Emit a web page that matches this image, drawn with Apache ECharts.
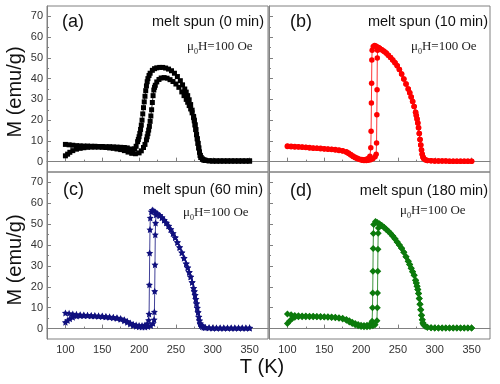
<!DOCTYPE html>
<html><head><meta charset="utf-8">
<script src="https://cdn.jsdelivr.net/npm/echarts@6/dist/echarts.min.js"></script>
<style>html,body{margin:0;padding:0;background:#fff}#c{width:500px;height:384px}</style>
</head><body><div id="c"></div>
<script>
// ---- tick labels ----
const xMajor = [100, 150, 200, 250, 300, 350];
const xMinor = [125, 175, 225, 275, 325];
const yMajor = [0, 10, 20, 30, 40, 50, 60, 70];
const yMinor = [5, 15, 25, 35, 45, 55, 65];

// ---- panel titles ----
const labels = ['(a)', '(b)', '(c)', '(d)'];
const titles = ['melt spun (0 min)', 'melt spun (10 min)', 'melt spun (60 min)', 'melt spun (180 min)'];

// ---- (a) melt spun 0 min : [T (K), M (emu/g)] ----
const aCool = [[100,8.3],[105,8.1],[110,7.9],[115,7.7],[120,7.6],[125,7.5],[130,7.5],[135,7.4],[140,7.4],[145,7.3],[150,7.3],[155,7.2],[160,7.2],[165,7.1],[170,7.0],[175,6.9],[180,6.8],[184,6.6],[188,6.1],[191,5.8],[194,6.2],[196,7.4],[198,9.6],[199,10.7],[200,12.0],[201,13.6],[202,15.5],[203,17.6],[204,20.0],[205,23.0],[206,26.0],[207,28.8],[208,31.5],[209,34.2],[210,36.5],[211,38.5],[212,40.0],[213.5,41.5],[215,42.6],[218,44.0],[221,44.8],[224,45.2],[228,45.4],[232,45.4],[236,45.1],[240,44.6],[244,43.8],[248,42.6],[252,41.0],[256,39.0],[259,37.0],[262,35.0],[264,33.5],[266,31.8],[268,29.8],[270,27.5],[272,24.8],[274,21.8],[275,20.0],[276,17.8],[277,15.5],[278,13.0],[279,11.0],[280,8.8],[281,6.6],[282,4.6],[283,3.0],[284,2.0],[286,1.2],[288,0.8],[290,0.6],[295,0.4],[300,0.3],[305,0.3],[310,0.3],[315,0.3],[320,0.3],[325,0.3],[330,0.3],[335,0.3],[340,0.3],[345,0.3],[350,0.3]];
const aHeat = [[100,2.8],[103,3.6],[106,4.5],[110,5.3],[115,6.0],[120,6.4],[125,6.7],[130,6.9],[135,7.0],[140,7.0],[145,7.0],[150,6.9],[155,6.8],[160,6.6],[165,6.4],[170,6.1],[175,5.8],[180,5.3],[185,4.6],[190,4.0],[195,3.8],[200,4.2],[203,5.2],[206,6.8],[208,8.3],[210,10.5],[211,12.0],[212,13.5],[213,15.2],[214,17.0],[215,19.4],[216,22.0],[217,25.0],[218,28.5],[219,31.8],[220,34.5],[221,35.8],[222,36.8],[224,38.4],[227,39.6],[230,40.3],[234,40.5],[238,40.2],[242,39.5],[246,38.6],[250,37.4],[254,35.8],[258,33.6],[261,31.8],[264,30.0],[266,28.6],[268,27.0],[270,25.4],[272,23.5],[274,21.2],[275,19.6],[276,17.6],[277,15.4],[278,13.0],[279,11.0],[280,8.8],[281,6.6],[282,4.6],[283,3.0],[284,2.0],[286,1.2],[288,0.8],[290,0.6],[295,0.4],[300,0.3],[305,0.3],[310,0.3],[315,0.3],[320,0.3],[325,0.3],[330,0.3],[335,0.3],[340,0.3],[345,0.3],[350,0.3]];

// ---- (b) melt spun 10 min ----
const bCool = [[100,7.5],[105,7.4],[110,7.3],[115,7.2],[120,7.0],[125,6.9],[130,6.8],[135,6.6],[140,6.5],[145,6.4],[150,6.2],[155,6.1],[160,6.0],[165,5.8],[170,5.6],[175,5.3],[180,4.7],[183,4.1],[186,3.4],[189,2.7],[192,2.1],[195,1.6],[198,1.2],[201,1.0],[204,0.9],[207,1.1],[210,1.6],[212,2.6],[213.2,6.7],[213.6,14.6],[214,28.2],[214.3,37.8],[214.6,49.0],[215,53.7],[216.5,55.5],[218.3,56.0]];
const bHeat = [[100,7.3],[105,7.2],[110,7.1],[115,7.0],[120,6.9],[125,6.8],[130,6.6],[135,6.5],[140,6.4],[145,6.2],[150,6.1],[155,6.0],[160,5.8],[165,5.6],[170,5.4],[175,5.1],[180,4.5],[183,3.9],[186,3.2],[189,2.5],[192,1.9],[195,1.4],[198,1.0],[201,0.7],[204,0.6],[207,0.6],[210,0.7],[213,0.9],[216,1.4],[219,2.4],[220.5,3.5],[221,9.0],[221.4,22.6],[221.7,34.6],[222,50.0],[222.4,53.7],[223.5,55.0]];
const bFall = [[220,55.7],[222,55.3],[225,54.6],[228,53.9],[231,53.2],[234,52.3],[237,51.3],[240,50.2],[243,49.0],[246,47.7],[249,46.2],[252,44.4],[255,42.2],[258,39.8],[261,37.4],[264,35.0],[266,33.2],[268,31.2],[270,29.0],[272,26.6],[274,23.8],[275,22.2],[276,20.5],[277,18.6],[278,16.3],[279,13.6],[280,10.7],[281,8.0],[282,5.6],[283,3.6],[284,2.2],[285,1.5],[287,0.9],[290,0.6],[295,0.4],[300,0.3],[305,0.3],[310,0.25],[315,0.25],[320,0.2],[325,0.2],[330,0.2],[335,0.2],[340,0.2],[345,0.2],[350,0.2]];

// ---- (c) melt spun 60 min ----
const cCool = [[100,7.5],[105,7.3],[110,7.0],[115,6.8],[120,6.6],[125,6.5],[130,6.4],[135,6.3],[140,6.2],[145,6.1],[150,6.0],[155,5.8],[160,5.6],[165,5.4],[170,5.2],[175,4.8],[180,4.2],[184,3.5],[188,2.7],[192,2.1],[196,1.7],[200,1.5],[204,1.5],[208,1.7],[211,2.3],[213,4.0],[213.6,7.0],[214,21.0],[214.4,36.2],[214.8,47.4],[215.2,53.0],[216.5,56.0],[218,56.8]];
const cHeat = [[100,3.0],[103,3.9],[106,4.7],[110,5.4],[115,6.0],[120,6.2],[125,6.2],[130,6.2],[135,6.1],[140,6.0],[145,5.9],[150,5.8],[155,5.6],[160,5.4],[165,5.2],[170,5.0],[175,4.5],[180,3.8],[184,3.0],[188,2.2],[192,1.5],[196,1.1],[200,0.9],[204,0.8],[208,0.8],[212,1.0],[216,1.5],[219,2.5],[220.4,4.3],[220.8,8.0],[221.2,17.9],[221.6,30.6],[222,45.0],[222.4,50.6],[223,54.5],[225,55.0]];
const cFall = [[220,56.4],[222,55.8],[225,55.0],[228,54.2],[231,53.2],[234,52.0],[237,50.7],[240,49.2],[243,47.5],[246,45.6],[249,43.6],[252,41.3],[255,38.9],[258,36.4],[261,33.8],[264,31.1],[266,29.2],[268,27.0],[270,24.8],[272,22.2],[274,19.4],[275,17.8],[276,16.0],[277,14.1],[278,12.0],[279,9.9],[280,7.8],[281,5.6],[282,3.8],[283,2.4],[284,1.6],[286,1.0],[288,0.7],[290,0.5],[295,0.4],[300,0.3],[305,0.3],[310,0.3],[315,0.3],[320,0.3],[325,0.3],[330,0.3],[335,0.3],[340,0.3],[345,0.3],[350,0.3]];

// ---- (d) melt spun 180 min ----
const dCool = [[100,7.0],[105,6.6],[110,6.3],[115,6.1],[120,6.0],[125,6.0],[130,5.9],[135,5.9],[140,5.8],[145,5.8],[150,5.7],[155,5.6],[160,5.5],[165,5.4],[170,5.2],[175,4.9],[180,4.4],[184,3.7],[188,3.0],[192,2.4],[196,1.9],[200,1.6],[204,1.5],[208,1.6],[212,2.0],[215,3.5],[215.5,10.0],[215.8,17.0],[216.1,27.4],[216.4,38.3],[216.7,45.5],[217.1,49.8],[219.6,51.3]];
const dHeat = [[100,2.4],[103,3.6],[107,5.0],[110,5.4],[115,5.6],[120,5.7],[125,5.7],[130,5.7],[135,5.6],[140,5.6],[145,5.5],[150,5.5],[155,5.4],[160,5.3],[165,5.2],[170,5.0],[175,4.6],[180,4.0],[184,3.2],[188,2.4],[192,1.8],[196,1.3],[200,1.0],[204,0.9],[208,0.9],[212,1.0],[216,1.3],[219,1.8],[221.5,3.8],[222,10.0],[222.3,17.0],[222.6,27.4],[222.9,38.0],[223.2,45.7],[223.6,48.2],[225,49.6]];
const dFall = [[222,50.8],[225,50.2],[228,49.4],[231,48.5],[234,47.6],[237,46.6],[240,45.5],[243,44.4],[246,43.0],[249,41.5],[252,40.0],[255,38.5],[258,36.5],[261,34.4],[264,32.2],[266,30.7],[268,28.9],[270,27.2],[272,25.5],[274,23.2],[275,21.8],[276,20.3],[277,18.7],[278,16.8],[279,14.4],[280,11.7],[281,9.0],[282,6.4],[283,4.2],[284,2.7],[285,1.8],[287,1.1],[290,0.6],[295,0.4],[300,0.3],[305,0.3],[310,0.3],[315,0.3],[320,0.3],[325,0.3],[330,0.3],[335,0.3],[340,0.3],[345,0.3],[350,0.3]];

// ---- build ----
function join(branch, fall) {
  const last = branch[branch.length - 1][0];
  return branch.concat(fall.filter(p => p[0] > last));
}
const starPath = 'path://M0,-10L2.9,-4L9.5,-3.1L4.7,1.5L5.9,8.1L0,5L-5.9,8.1L-4.7,1.5L-9.5,-3.1L-2.9,-4Z';
const panels = [
  {cool: aCool, heat: aHeat, color: '#000000', symbol: 'rect', size: 5, left: 47, top: 6, h: 166, xl: false, yl: true},
  {cool: join(bCool, bFall), heat: join(bHeat, bFall), color: '#ff0000', symbol: 'circle', size: 5.5, left: 269, top: 6, h: 166, xl: false, yl: false},
  {cool: join(cCool, cFall), heat: join(cHeat, cFall), color: '#10107e', symbol: starPath, size: 7, left: 47, top: 172, h: 167, xl: true, yl: true},
  {cool: join(dCool, dFall), heat: join(dHeat, dFall), color: '#0c7a0c', symbol: 'diamond', size: 7, left: 269, top: 172, h: 167, xl: true, yl: false}
];
const FONT = '"Liberation Sans", Arial, sans-serif';
const SERIF = '"Liberation Serif", "Times New Roman", serif';
const axCol = '#808080';
const grid = [], xAxis = [], yAxis = [], series = [];
panels.forEach((p, i) => {
  grid.push({left: p.left, top: p.top, width: 221, height: p.h, show: true, borderColor: axCol, borderWidth: 1, backgroundColor: 'transparent'});
  xAxis.push({type: 'value', gridIndex: i, min: 75, max: 375, position: 'bottom',
    axisLine: {show: true, lineStyle: {color: axCol, width: 1}},
    axisTick: {show: true, inside: true, length: 4, customValues: xMajor, lineStyle: {color: axCol}},
    axisLabel: {show: p.xl, customValues: xMajor, margin: 5, fontSize: 11, color: '#333', fontFamily: FONT},
    splitLine: {show: false}});
  xAxis.push({type: 'value', gridIndex: i, min: 75, max: 375, position: 'bottom',
    axisLine: {show: false}, axisTick: {show: true, inside: true, length: 2, customValues: xMinor, lineStyle: {color: axCol}},
    axisLabel: {show: false}, splitLine: {show: false}});
  yAxis.push({type: 'value', gridIndex: i, min: -5, max: 75, position: 'left',
    axisLine: {show: true, lineStyle: {color: axCol, width: 1}},
    axisTick: {show: true, inside: true, length: 4, customValues: yMajor, lineStyle: {color: axCol}},
    axisLabel: {show: p.yl, customValues: yMajor, margin: 4, fontSize: 11, color: '#333', fontFamily: FONT},
    splitLine: {show: false}});
  yAxis.push({type: 'value', gridIndex: i, min: -5, max: 75, position: 'left',
    axisLine: {show: false}, axisTick: {show: true, inside: true, length: 2, customValues: yMinor, lineStyle: {color: axCol}},
    axisLabel: {show: false}, splitLine: {show: false}});
  [p.cool, p.heat].forEach(d => {
    series.push({type: 'line', xAxisIndex: 2 * i, yAxisIndex: 2 * i, data: d,
      symbol: p.symbol, symbolSize: p.size, showSymbol: true,
      itemStyle: {color: p.color}, lineStyle: {color: p.color, width: 0.8},
      emphasis: {disabled: true}, silent: true, animation: false});
  });
});

function txt(x, y, text, size, align, extra) {
  return Object.assign({type: 'text', x: x, y: y, silent: true,
    style: {text: text, fontSize: size, fontFamily: FONT, fill: '#111', align: align, verticalAlign: 'middle'}}, extra || {});
}
function mu(x, y) {
  return {type: 'text', x: x, y: y, silent: true,
    style: {text: '{m|\u03bc}{s|0}{m|H=100 Oe}', align: 'left', verticalAlign: 'middle',
      rich: {m: {fontSize: 13, fontFamily: SERIF, fill: '#222', lineHeight: 16},
             s: {fontSize: 8, fontFamily: SERIF, fill: '#222', verticalAlign: 'top', padding: [9, 0, 0, 0]}}}};
}
const graphic = [
  txt(15, 92, 'M (emu/g)', 20, 'center', {rotation: Math.PI / 2}),
  txt(15, 260, 'M (emu/g)', 20, 'center', {rotation: Math.PI / 2}),
  txt(262, 367, 'T (K)', 20, 'center'),
  txt(62, 22, labels[0], 18, 'left'),
  txt(290, 22, labels[1], 18, 'left'),
  txt(63, 190, labels[2], 18, 'left'),
  txt(290, 191, labels[3], 18, 'left'),
  txt(264, 22, titles[0], 14.5, 'right'),
  txt(488, 22, titles[1], 14.5, 'right'),
  txt(263, 190, titles[2], 14.5, 'right'),
  txt(488, 191, titles[3], 14.5, 'right'),
  mu(187, 47), mu(411, 47), mu(183, 213), mu(400, 211)
];

const chart = echarts.init(document.getElementById('c'), null, {renderer: 'canvas'});
chart.setOption({animation: false, backgroundColor: '#fff', grid, xAxis, yAxis, series, graphic});
</script></body></html>
